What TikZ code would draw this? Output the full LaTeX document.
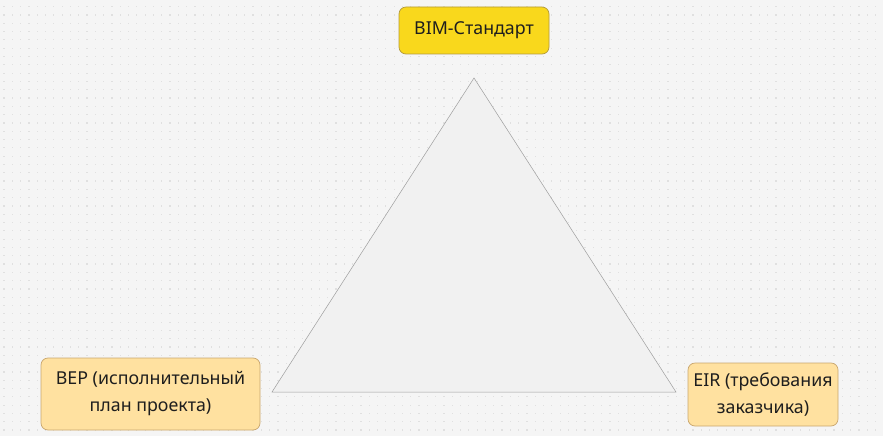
\documentclass[tikz,border=0pt]{standalone}
\usepackage{fontspec}
\setmainfont{Noto Sans}
\definecolor{bg}{HTML}{F5F5F5}
\definecolor{dotc}{HTML}{E0E0E0}
\definecolor{yel}{HTML}{F9D81C}
\definecolor{yelb}{HTML}{B49A3A}
\definecolor{org}{HTML}{FFE1A0}
\definecolor{orgb}{HTML}{C9A66E}
\definecolor{trif}{HTML}{F1F1F1}
\definecolor{trib}{HTML}{9E9E9E}
\definecolor{txt}{HTML}{1E1E1E}
\tikzset{
  box/.style={draw, line width=0.7pt, rounded corners=7pt, align=center, inner sep=0pt,
    font=\fontsize{17.8}{27}\selectfont, text=txt},
}
\begin{document}
\begin{tikzpicture}[x=1pt,y=-1pt]
\fill[bg] (0,0) rectangle (883,436);
\useasboundingbox (0,0) rectangle (883,436);
\foreach \i in {0,...,106}{
  \foreach \j in {0,...,52}{
    \fill[dotc] ({4+8.3*\i-0.6},{6.7+8.3*\j-0.6}) rectangle ++(1.2,1.2);
  }
}
\draw[trib, fill=trif, line width=0.5pt] (474,78) -- (676,392) -- (272,392) -- cycle;
\node[box, fill=yel, draw=yelb, minimum width=150pt, minimum height=47pt] (bim) at (474,30.5) {BIM-Стандарт};
\node[box, fill=org, draw=orgb, minimum width=219pt, minimum height=72pt] (bep) at (150.5,394) {BEP (исполнительный\\план проекта)};
\node[box, fill=org, draw=orgb, minimum width=150pt, minimum height=63pt] (eir) at (763,394.5) {EIR (требования\\заказчика)};
\end{tikzpicture}
\end{document}
